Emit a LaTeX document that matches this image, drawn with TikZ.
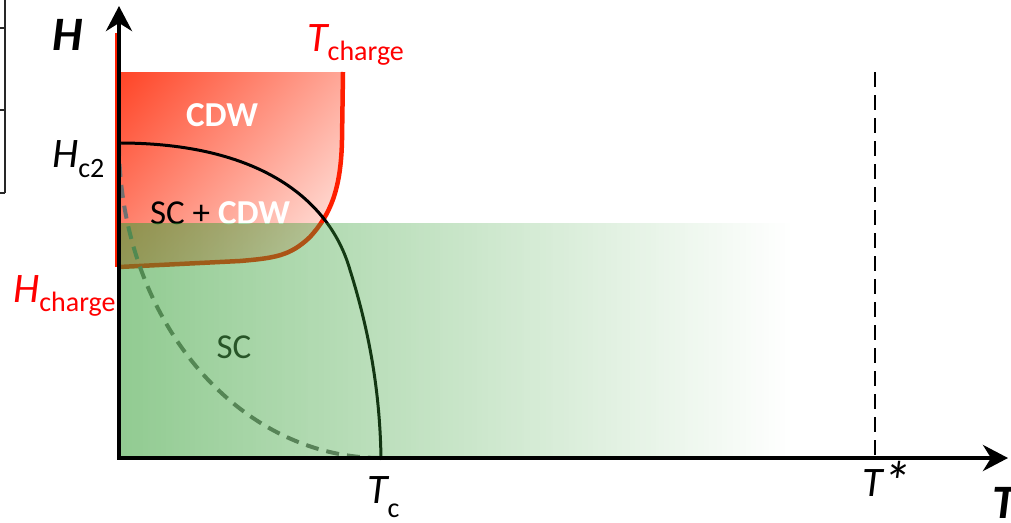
\documentclass[tikz,border=0pt]{standalone}
\usepackage{fontspec}
\setmainfont{Carlito}
\usetikzlibrary{arrows.meta,fadings}

\definecolor{cdwred}{RGB}{255,30,0}
\definecolor{cdwdark}{RGB}{255,68,38}
\definecolor{cdwlight}{RGB}{255,242,238}
\definecolor{scgreen}{RGB}{55,160,55}
\definecolor{sctext}{RGB}{40,85,40}
\definecolor{dashgray}{RGB}{112,112,112}
\definecolor{tablegray}{RGB}{40,40,40}

\tikzfading[name=fade right, left color=transparent!0, right color=transparent!100]

% main letter in italic, subscript upright and lowered
\newcommand{\sublbl}[3][10pt]{{\itshape #2}\raisebox{-#1}{\fontsize{28}{28}\selectfont #3}}

\begin{document}
\begin{tikzpicture}[x=1pt, y=-1pt,
    axis/.style={line width=4.5pt, line join=miter,
        {Stealth[length=25pt,width=26pt,inset=8pt]}-{Stealth[length=25pt,width=26pt,inset=8pt]}},
    axistxt/.style={font=\fontsize{48}{48}\selectfont\bfseries\itshape, inner sep=0pt, anchor=base west},
    valtxt/.style={font=\fontsize{42}{42}\selectfont, inner sep=0pt, anchor=base west},
    phasetxt/.style={font=\fontsize{35}{35}\selectfont, inner sep=0pt},
    curve/.style={line width=3pt},
    dashcurve/.style={dashgray, line width=4pt, dash pattern=on 13pt off 8pt}
]
    \useasboundingbox (0,0) rectangle (1011,522);

    % Axis points
    \coordinate (origin) at (119,458);
    \coordinate (htip) at (119,6);
    \coordinate (ttip) at (1008,458);
    \coordinate (hc2) at (119,143);
    \coordinate (tc) at (381,458);

    % CDW region
    \begin{scope}
        \clip (121,72) -- (343,72) -- (342,140)
            .. controls (341,190) and (330,215) .. (310,237)
            .. controls (290,256) and (275,258) .. (240,261)
            -- (121,267) -- cycle;
        \shade[left color=cdwdark, right color=cdwlight,
            transform canvas={rotate around={-41:(232,170)}}] (83,21) rectangle (381,319);
    \end{scope}
    \draw[cdwred, line width=1.5pt] (116,33) -- (116,267);
    \draw[cdwred, line width=4.5pt] (119,267) -- (240,261)
        .. controls (275,258) and (290,256) .. (310,237)
        .. controls (330,215) and (341,190) .. (342,140) -- (343,72);

    % Phase labels
    \node[phasetxt, text=white, font=\fontsize{35}{35}\selectfont\bfseries] (cdw) at (222,115) {CDW};
    \node[phasetxt] (sccdw) at (220,213) {SC + \textcolor{white}{\bfseries CDW}};

    % Hc2 line and dashed line
    \draw[curve] (hc2) .. controls (260,143) and (330,200) .. (350,270)
        .. controls (372,340) and (380,400) .. (tc);
    \draw[dashcurve] (hc2) .. controls (119,317) and (236,458) .. (tc);

    % SC region
    \fill[scgreen, fill opacity=0.55, path fading=fade right] (121,223) rectangle (790,456);
    \node[phasetxt, text=sctext] (sc) at (234,347) {SC};

    % T* line
    \coordinate (tstartop) at (875,72);
    \coordinate (tstarbot) at (875,458);
    \draw[line width=2.5pt, dash pattern=on 15pt off 8pt] (tstartop) -- (tstarbot);

    % Axes
    \draw[axis] (htip) -- (origin) -- (ttip);
    \node[axistxt] (hlabel) at (52,50) {H};
    \node[axistxt] (tlabel) at (992,518) {T};

    % Values on the axes
    \node[valtxt] (hc2label) at (52,167) {\sublbl{H}{c2}};
    \node[valtxt, text=red] (hchlabel) at (13,302) {\sublbl[9pt]{H}{charge}};
    \node[valtxt, text=red] (tchlabel) at (307,51) {\sublbl[9pt]{T}{charge}};
    \node[valtxt] (tclabel) at (367,503) {\sublbl[14pt]{T}{c}};
    \node[valtxt] (tstarlabel) at (862,496) {\itshape T\raisebox{-5pt}{\scalebox{1.35}{*}}};

    % Edge of the table on the left
    \draw[tablegray, line width=2.5pt] (5,0) -- (5,193);
    \foreach \y in {28,110,193} {
        \draw[tablegray, line width=2.5pt] (0,\y) -- (5,\y);
    }
\end{tikzpicture}
\end{document}
